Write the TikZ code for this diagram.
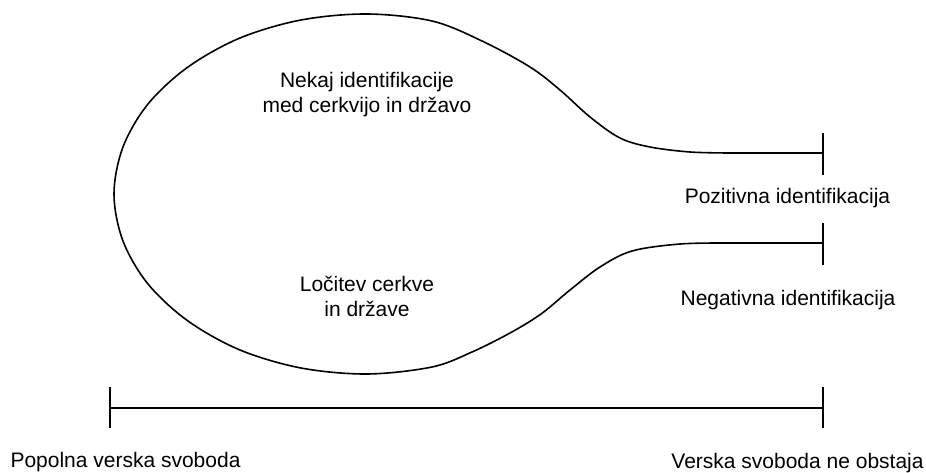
\documentclass[tikz,border=0pt]{standalone}
\usepackage{fontspec}
\setmainfont{Liberation Sans}
\begin{document}
\begin{tikzpicture}[x=1pt,y=-1pt,
  shapeline/.style={line width=1.6pt,line join=round,line cap=round},
  tickline/.style={line width=1.6pt},
  lbl/.style={inner sep=0pt,anchor=base,font=\fontsize{21}{25}\selectfont}]
\useasboundingbox (0,0) rectangle (926,473);
% tail end points and ticks
\coordinate (upR) at (823,153);
\coordinate (upL) at (730,153);
\coordinate (loR) at (823,243);
\coordinate (loL) at (730,243);
\coordinate (upT1) at (823,133);
\coordinate (upT2) at (823,175);
\coordinate (loT1) at (823,223);
\coordinate (loT2) at (823,265);
% racket-shaped curve
\draw[shapeline] (upR) -- (upL)
  plot[smooth,tension=0.55] coordinates {(730,153) (690,152) (650,147) (620,138) (590,117) (560,90) (530,67) (482,41) (432,21) (367,14) (301,20) (240,38) (188,67) (148,104) (123,147) (114,194) (123,241) (148,284) (188,321) (240,350) (301,368) (367,374) (432,367) (472,352) (510,333) (541,314) (570,290) (600,267) (632,251) (680,244) (730,243)}
  -- (loR);
\draw[tickline] (upT1) -- (upT2);
\draw[tickline] (loT1) -- (loT2);
% scale line
\coordinate (sL) at (110,408);
\coordinate (sR) at (823,408);
\coordinate (sL1) at (110,387);
\coordinate (sL2) at (110,428);
\coordinate (sR1) at (823,387);
\coordinate (sR2) at (823,428);
\draw[tickline] (sL) -- (sR);
\draw[tickline] (sL1) -- (sL2);
\draw[tickline] (sR1) -- (sR2);
% labels
\node[lbl] (nekaj1) at (367,88) {Nekaj identifikacije};
\node[lbl] (nekaj2) at (367,113) {med cerkvijo in državo};
\node[lbl] (locitev1) at (367,291) {Ločitev cerkve};
\node[lbl] (locitev2) at (367,316) {in države};
\node[lbl] (poz) at (787.5,204) {Pozitivna identifikacija};
\node[lbl] (neg) at (788,305) {Negativna identifikacija};
\node[lbl] (popolna) at (125.5,467) {Popolna verska svoboda};
\node[lbl] (ne) at (797.5,468) {Verska svoboda ne obstaja};
\end{tikzpicture}
\end{document}
